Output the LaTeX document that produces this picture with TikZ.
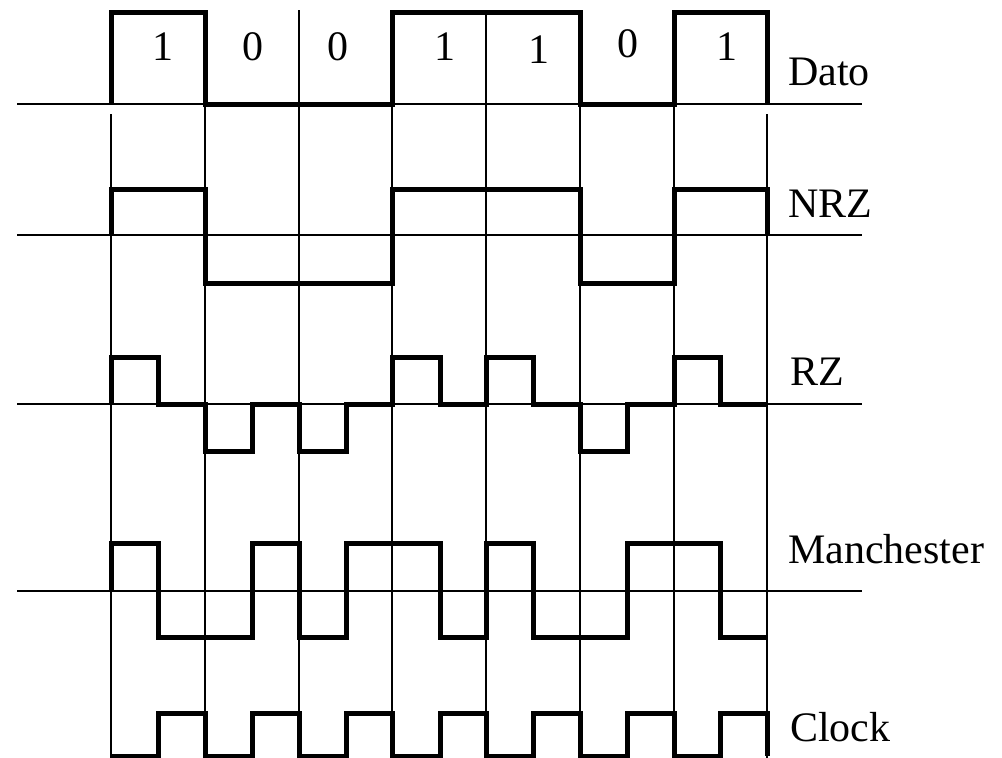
\documentclass[tikz,border=0pt]{standalone}
\usepackage{fontspec}
\setmainfont{Liberation Serif}
\begin{document}
\begin{tikzpicture}[x=1pt,y=-1pt,
  grid/.style={line width=2.2pt},
  sig/.style={line width=5pt, line join=miter},
  lbl/.style={font=\fontsize{42}{50}\selectfont, inner sep=0pt, anchor=base west},
  dig/.style={font=\fontsize{42}{50}\selectfont, inner sep=0pt, anchor=base}]
\useasboundingbox (0,0) rectangle (1002,758);
% baselines
\foreach \y in {104,235,404,591}
  \draw[grid] (17,\y) -- (862,\y);
% vertical grid lines
\draw[grid] (111,114) -- (111,758);
\draw[grid] (767,114) -- (767,758);
\foreach \x in {205,392,580,674}
  \draw[grid] (\x,104) -- (\x,758);
\foreach \x in {299,486}
  \draw[grid] (\x,10) -- (\x,758);
% Dato
\draw[sig] (111,104) -- (111,12) -- (205,12) -- (205,104) -- (392,104) -- (392,12)
  -- (580,12) -- (580,104) -- (674,104) -- (674,12) -- (767,12) -- (767,104);
% NRZ
\draw[sig] (111,235) -- (111,189) -- (205,189) -- (205,283) -- (392,283) -- (392,189)
  -- (580,189) -- (580,283) -- (674,283) -- (674,189) -- (767,189) -- (767,235);
% RZ
\draw[sig] (111,404) -- (111,357) -- (158,357) -- (158,404) -- (205,404) -- (205,451)
  -- (252,451) -- (252,404) -- (299,404) -- (299,451) -- (346,451) -- (346,404)
  -- (392,404) -- (392,357) -- (440,357) -- (440,404) -- (486,404) -- (486,357)
  -- (533,357) -- (533,404) -- (580,404) -- (580,451) -- (627,451) -- (627,404)
  -- (674,404) -- (674,357) -- (720,357) -- (720,404) -- (767,404);
% Manchester
\draw[sig] (111,591) -- (111,543) -- (158,543) -- (158,637) -- (252,637) -- (252,543)
  -- (299,543) -- (299,637) -- (346,637) -- (346,543) -- (440,543) -- (440,637)
  -- (486,637) -- (486,543) -- (533,543) -- (533,637) -- (627,637) -- (627,543)
  -- (720,543) -- (720,637) -- (767,637);
% Clock
\draw[sig] (111,756) -- (158,756) -- (158,713) -- (205,713) -- (205,756) -- (252,756)
  -- (252,713) -- (299,713) -- (299,756) -- (346,756) -- (346,713) -- (392,713)
  -- (392,756) -- (440,756) -- (440,713) -- (486,713) -- (486,756) -- (533,756)
  -- (533,713) -- (580,713) -- (580,756) -- (627,756) -- (627,713) -- (674,713)
  -- (674,756) -- (720,756) -- (720,713) -- (767,713) -- (767,756);
% bit labels
\node[dig] (b1) at (163,60) {1};
\node[dig] (b2) at (253,60) {0};
\node[dig] (b3) at (338,60) {0};
\node[dig] (b4) at (445,60) {1};
\node[dig] (b5) at (539,63) {1};
\node[dig] (b6) at (628,57) {0};
\node[dig] (b7) at (727,60) {1};
% row labels
\node[lbl] (dato) at (788,85) {Dato};
\node[lbl] (nrz) at (788,217) {NRZ};
\node[lbl] (rz) at (790,385) {RZ};
\node[lbl] (man) at (788,563) {Manchester};
\node[lbl] (clk) at (790,741) {Clock};
\end{tikzpicture}
\end{document}
